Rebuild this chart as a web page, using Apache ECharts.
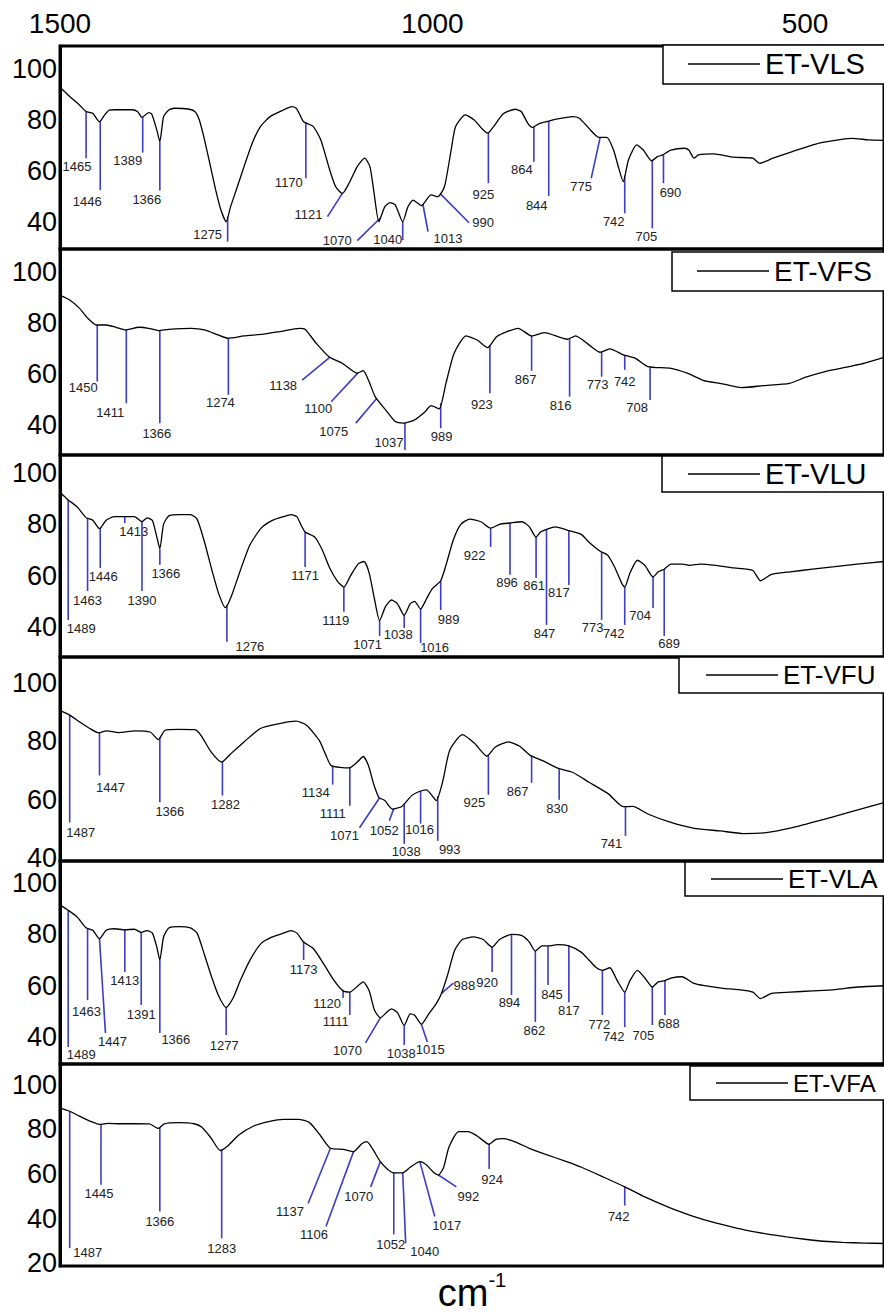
<!DOCTYPE html>
<html>
<head>
<meta charset="utf-8">
<script src="https://cdn.jsdelivr.net/npm/echarts@6/dist/echarts.min.js"></script>
<style>
  html, body { margin: 0; padding: 0; background: #fff; }
  #chart { width: 884px; height: 1313px; }
</style>
</head>
<body>
<div id="chart"></div>
<script>
// ---- FTIR spectra: wavenumber (cm-1) and transmittance (%) ----
const vlsWn = [1500,1487,1474,1465,1456,1447,1440,1434,1427,1403,1396,1390,1381,1377,1370,1366,1361,1354,1346,1328,1319,1313,1306,1297,1291,1284,1277,1271,1262,1253,1242,1231,1218,1200,1189,1183,1178,1173,1160,1150,1138,1130,1121,1112,1101,1091,1084,1079,1072,1064,1057,1050,1040,1033,1026,1015,1002,993,984,975,969,956,944,934,926,918,905,889,881,872,866,856,847,834,812,803,790,777,766,757,750,744,737,726,717,706,698,691,680,662,656,649,643,623,596,570,561,543,517,481,451,437,415,394];
const vlsT  = [92.8,89.2,85.9,83.3,82.6,79.3,82.0,83.9,84.0,84.0,83.3,81.0,82.9,82.4,76.0,71.5,81.3,83.9,84.6,84.3,83.3,80.0,72.2,60.4,52.5,44.7,40.1,46.0,53.8,61.7,70.9,77.4,81.3,83.9,85.2,84.6,82.0,79.3,77.4,72.2,60.4,53.8,51.2,55.2,61.7,65.0,61.7,52.5,40.1,46.0,47.6,46.7,40.1,46.0,48.6,46.4,50.6,49.9,53.8,68.2,77.4,82.0,80.0,76.7,74.8,77.4,82.4,84.2,83.3,78.7,77.1,78.7,79.3,80.3,81.3,80.7,76.7,73.2,73.2,68.2,61.0,55.8,64.3,70.2,68.2,64.0,65.6,66.3,68.2,68.9,68.2,65.0,66.3,66.7,65.4,65.0,63.0,65.0,67.6,70.9,72.4,72.8,72.2,72.0];

const vfsWn = [1500,1487,1474,1463,1451,1438,1425,1412,1394,1381,1368,1354,1324,1306,1288,1275,1253,1227,1205,1178,1171,1156,1138,1121,1101,1093,1086,1077,1063,1050,1039,1024,1010,1002,991,982,971,955,940,926,914,900,885,867,850,819,808,790,775,762,744,728,711,680,658,636,614,585,556,521,499,473,437,420,394];
const vfsT  = [90.8,89.0,85.8,81.9,79.2,79.2,78.3,77.3,78.3,77.9,77.0,77.5,77.9,77.3,75.3,74.0,74.9,75.6,76.6,77.9,77.5,72.0,66.5,64.2,60.3,61.3,57.6,51.1,45.9,41.3,40.7,42.0,45.2,47.6,46.3,56.3,68.1,74.9,73.3,70.3,74.6,76.6,77.9,74.9,76.2,73.6,74.9,71.4,68.5,69.8,67.5,66.2,62.9,62.2,60.3,57.4,56.3,54.6,55.4,56.3,58.7,60.9,63.1,64.2,66.5];

const vluWn = [1500,1489,1477,1465,1456,1447,1438,1427,1413,1400,1390,1383,1376,1370,1366,1361,1354,1340,1325,1316,1306,1296,1287,1278,1270,1258,1245,1230,1215,1200,1190,1182,1177,1171,1158,1148,1138,1128,1119,1110,1100,1092,1085,1078,1071,1063,1055,1047,1038,1030,1024,1016,1008,1000,989,982,972,962,950,935,922,910,896,880,870,861,855,847,835,817,800,790,775,765,755,746,742,735,725,715,704,697,689,680,665,655,640,620,595,570,560,545,520,490,460,430,394];
const vluT  = [92.5,89.5,86.8,82.6,81.6,78.3,81.6,83.0,83.0,83.0,81.0,82.5,81.5,75.0,70.5,80.0,83.3,83.8,83.8,82.0,73.0,62.0,53.0,47.5,52.0,62.0,72.0,78.5,81.5,83.0,83.8,83.0,80.0,77.0,75.0,70.0,63.0,58.0,55.5,60.0,64.5,65.5,61.0,51.0,42.5,48.0,50.5,49.0,44.5,49.0,50.0,47.0,51.0,55.0,58.0,64.0,74.0,80.0,82.0,81.0,78.5,80.0,80.5,81.0,79.0,75.0,77.0,78.0,79.0,77.5,76.0,73.0,69.5,68.0,63.0,57.0,55.5,61.0,66.0,64.0,59.5,61.5,62.5,64.5,64.5,64.0,64.5,64.0,63.0,62.0,58.0,60.5,61.5,62.5,63.5,64.5,65.5];

const vfuWn = [1500,1487,1474,1460,1448,1438,1421,1399,1379,1368,1359,1341,1319,1311,1297,1283,1271,1253,1231,1205,1183,1169,1152,1143,1136,1112,1101,1093,1086,1079,1072,1064,1054,1041,1028,1017,1008,995,986,977,960,944,927,916,898,883,869,852,832,812,790,764,744,731,711,680,649,614,583,552,517,481,446,410,394];
const vfuT  = [90.5,89.0,86.7,84.4,82.9,83.6,83.0,83.6,83.2,80.6,83.8,84.1,84.0,82.1,76.3,72.9,75.7,79.8,84.4,86.1,86.9,85.5,80.3,75.2,71.7,70.9,72.9,74.8,71.7,65.4,60.8,59.7,56.8,57.7,61.4,62.9,63.4,59.7,66.6,76.9,82.3,79.4,74.9,78.0,79.8,78.3,75.2,73.4,70.8,69.4,66.0,62.0,57.6,57.7,55.1,52.2,50.2,49.3,48.4,48.7,50.4,52.8,55.3,57.9,59.0];

const vlaWn = [1500,1489,1477,1465,1456,1447,1438,1427,1413,1400,1391,1383,1376,1370,1366,1361,1354,1340,1325,1316,1306,1296,1287,1277,1268,1258,1245,1230,1215,1200,1190,1182,1173,1160,1145,1132,1120,1111,1100,1093,1085,1078,1070,1062,1055,1047,1038,1030,1024,1015,1005,995,988,980,970,960,945,932,920,910,894,880,870,862,853,845,832,817,800,790,780,772,762,752,742,735,725,715,705,697,688,680,665,650,635,610,590,570,560,545,520,490,460,430,394];
const vlaT  = [91.5,89.4,86.8,82.6,81.6,78.3,81.6,82.2,81.8,82.0,80.8,81.5,80.5,75.0,70.0,79.0,82.5,83.0,82.5,80.5,72.0,63.0,56.0,51.5,55.0,62.0,70.0,76.5,79.0,80.5,81.5,80.5,77.0,74.5,68.0,62.0,58.0,57.5,60.0,61.5,58.0,50.5,47.5,49.5,51.0,49.5,44.5,49.0,48.5,45.0,49.0,53.0,57.0,64.0,74.0,78.0,79.0,78.0,75.0,78.0,80.0,79.5,77.0,73.5,75.5,75.5,76.0,75.5,73.0,70.0,67.0,66.0,67.0,62.0,57.5,62.0,66.0,63.0,59.5,61.5,62.0,63.0,63.5,61.0,60.0,59.0,58.5,57.5,55.0,57.0,57.5,58.0,58.5,59.5,60.0];

const vfaWn = [1500,1487,1474,1460,1447,1435,1420,1400,1380,1368,1360,1340,1320,1310,1297,1285,1275,1260,1240,1220,1200,1180,1165,1150,1137,1120,1106,1095,1088,1080,1070,1060,1052,1040,1030,1017,1008,998,992,985,978,965,952,940,924,915,905,890,870,850,820,800,770,742,720,700,675,650,625,600,575,550,525,500,475,450,420,394];
const vfaT  = [89.5,88.1,85.9,83.7,82.2,82.7,82.5,82.5,82.4,80.4,82.5,83.0,82.5,81.0,76.0,70.5,72.5,77.5,81.5,83.5,84.5,84.5,83.0,77.0,71.5,71.0,70.0,73.5,74.5,71.0,65.5,62.0,60.5,60.5,63.0,65.5,64.0,60.5,59.5,63.0,72.0,79.0,79.0,77.0,73.3,75.5,75.8,74.5,71.5,69.0,65.5,63.0,58.5,54.2,50.5,47.5,44.0,41.0,38.5,36.4,34.5,33.0,31.8,30.7,29.8,29.3,29.0,28.8];

// ---- labelled absorption bands (cm-1) ----
const vlsBands = [1465,1446,1389,1366,1275,1170,1121,1070,1040,1013,990,925,864,844,775,742,705,690];
const vfsBands = [1450,1411,1366,1274,1138,1100,1075,1037,989,923,867,816,773,742,708];
const vluBands = [1489,1463,1446,1413,1390,1366,1276,1171,1119,1071,1038,1016,989,922,896,861,847,817,773,742,704,689];
const vfuBands = [1487,1447,1366,1282,1134,1111,1071,1052,1038,1016,993,925,867,830,741];
const vlaBands = [1489,1463,1447,1413,1391,1366,1277,1173,1120,1111,1070,1038,1015,988,920,894,862,845,817,772,742,705,688];
const vfaBands = [1487,1445,1366,1283,1137,1106,1070,1052,1040,1017,992,924,742];

// ---- leader layout: line end [wavenumber, %T] and label offset [dx, dy] in px ----
const vlsLeaders = [[1465,65.0,-9,8],[1446,52.5,-13,11],[1389,67.2,-15,8],[1366,52.3,-13,9],[1275,32.3,-20,-7],[1170,57.1,-17,4],[1141,42.1,-19,-2],[1101,32.7,-20,0],[1040,32.9,-15,-1],[1006,36.2,20,7],[951,39.7,14,0],[925,55.2,-5,11],[864,63.6,-12,8],[844,50.2,-12,10],[787,57.1,-10,8],[742,43.4,-11,8],[705,37.5,-6,8],[690,55.2,7,9]];
const vfsLeaders = [[1450,57.0,-14,6],[1411,48.5,-16,9],[1366,40.7,-3,10],[1274,51.8,-8,8],[1175,57.6,-19,5],[1136,49.1,-13,7],[1103,40.7,-22,8],[1037,30.2,-16,-7],[989,38.7,1,8],[923,52.4,-8,11],[867,61.2,-6,9],[816,51.1,-9,9],[773,58.9,-4,8],[742,61.6,0,12],[708,49.8,-13,8]];
const vluLeaders = [[1489,42.7,13,8],[1463,54.0,0,9],[1446,63.0,3,9],[1413,80.5,9,8],[1390,54.0,0,9],[1366,64.2,6,9],[1276,34.2,23,5],[1171,63.4,0,9],[1119,45.9,-8,9],[1071,36.5,-12,9],[1038,39.6,-6,7],[1016,33.8,14,5],[989,46.6,8,9],[922,71.2,-16,9],[896,60.3,-3,8],[861,59.1,-2,8],[847,40.8,-2,9],[817,56.4,-10,8],[773,42.7,-9,7],[742,40.8,-11,9],[704,47.4,-13,8],[689,36.5,5,8]];
const vfuLeaders = [[1487,52.2,11,10],[1447,68.3,11,12],[1366,59.1,10,9],[1282,61.4,3,9],[1134,65.2,-17,8],[1111,57.9,-17,8],[1098,50.4,-15,8],[1058,52.8,-5,10],[1038,44.9,2,8],[1016,51.8,-1,6],[993,45.9,12,9],[925,61.7,-14,8],[867,65.8,-14,9],[830,60.0,-2,9],[741,47.6,-14,8]];
const vlaLeaders = [[1489,36.1,13,7],[1463,54.4,-1,11],[1439,41.6,7,9],[1413,65.3,0,8],[1391,52.5,0,10],[1366,41.6,16,7],[1277,40.8,-2,10],[1173,70.0,0,9],[1120,55.2,-16,5],[1111,48.6,-14,7],[1090,37.7,-18,8],[1038,36.9,-3,8],[1007,38.1,3,8],[972,61.0,11,2],[920,65.3,-5,10],[894,56.4,-2,8],[862,45.9,-1,9],[845,60.3,4,10],[817,53.6,0,8],[772,48.6,-3,10],[742,43.9,-11,9],[705,44.7,-9,11],[688,48.6,4,9]];
const vfaLeaders = [[1487,26.7,18,4],[1445,55.1,-2,9],[1366,43.1,0,10],[1283,31.1,0,10],[1167,46.7,-18,8],[1143,36.4,-12,8],[1083,54.2,-12,10],[1052,32.9,-3,10],[1036,28.9,19,8],[997,40.9,12,9],[968,54.2,12,10],[924,62.2,3,10],[742,45.8,-6,11]];

// ---- axis tick labels ----
const wnTicks = [1500, 1000, 500];
const tTicks = [40, 60, 80, 100];
const tTicksWide = [20, 40, 60, 80, 100];

// ---- panel layout ----
const FONT = 'Liberation Sans, Arial, Helvetica, sans-serif';
const panels = [
  { name: 'ET-VLS', wn: vlsWn, t: vlsT, bands: vlsBands, leaders: vlsLeaders, top: 46,   height: 203, yMin: 29.4, yMax: 109.0, ticks: tTicks,     lg: { left: 663, top: 45,   fs: 29, pad: [4, 40, 5, 25] } },
  { name: 'ET-VFS', wn: vfsWn, t: vfsT, bands: vfsBands, leaders: vfsLeaders, top: 249,  height: 206, yMin: 28.2, yMax: 109.0, ticks: tTicks,     lg: { left: 672, top: 252,  fs: 28, pad: [4, 40, 5, 25] } },
  { name: 'ET-VLU', wn: vluWn, t: vluT, bands: vluBands, leaders: vluLeaders, top: 455,  height: 202, yMin: 28.3, yMax: 107.0, ticks: tTicks,     lg: { left: 662, top: 456,  fs: 29, pad: [3, 40, 3, 26] } },
  { name: 'ET-VFU', wn: vfuWn, t: vfuT, bands: vfuBands, leaders: vfuLeaders, top: 657,  height: 204, yMin: 39.0, yMax: 108.9, ticks: tTicks,     lg: { left: 679, top: 657,  fs: 26, pad: [3, 40, 3, 27] } },
  { name: 'ET-VLA', wn: vlaWn, t: vlaT, bands: vlaBands, leaders: vlaLeaders, top: 861,  height: 203, yMin: 29.5, yMax: 108.6, ticks: tTicks,     lg: { left: 685, top: 862,  fs: 26, pad: [2, 40, 2, 26] } },
  { name: 'ET-VFA', wn: vfaWn, t: vfaT, bands: vfaBands, leaders: vfaLeaders, top: 1064, height: 204, yMin: 18.7, yMax: 109.3, ticks: tTicksWide, lg: { left: 690, top: 1066, fs: 24, pad: [2, 40, 2, 26] } }
];

// transmittance of a spectrum at a given wavenumber (spectra are stored high -> low)
function valueAt(wn, t, x) {
  for (let i = 0; i < wn.length - 1; i++) {
    if (x <= wn[i] && x >= wn[i + 1]) {
      const f = (wn[i] - x) / (wn[i] - wn[i + 1]);
      return t[i] + f * (t[i + 1] - t[i]);
    }
  }
  return t[t.length - 1];
}

const grids = [], xAxes = [], yAxes = [], series = [], legends = [];

panels.forEach((p, i) => {
  grids.push({
    left: 60, width: 836, top: p.top, height: p.height,
    show: true, borderColor: '#000', borderWidth: 3, backgroundColor: 'transparent'
  });

  const isTop = i === 0, isBottom = i === panels.length - 1;
  xAxes.push({
    type: 'value', gridIndex: i, min: 394, max: 1500, inverse: true,
    position: isTop ? 'top' : 'bottom',
    axisLine: { show: false }, axisTick: { show: false }, splitLine: { show: false },
    axisLabel: isTop
      ? { show: true, customValues: wnTicks, formatter: v => String(v),
          fontSize: 28, fontFamily: FONT, color: '#000', margin: 9 }
      : { show: false },
    name: isBottom ? '{a|cm}{b|-1}' : '',
    nameLocation: 'middle',
    nameGap: 4,
    nameTextStyle: {
      rich: {
        a: { fontSize: 38, fontFamily: FONT, color: '#000', lineHeight: 46 },
        b: { fontSize: 20, fontFamily: FONT, color: '#000', verticalAlign: 'top', lineHeight: 20 }
      }
    }
  });

  yAxes.push({
    type: 'value', gridIndex: i, min: p.yMin, max: p.yMax,
    axisLine: { show: true, lineStyle: { color: '#000', width: 3 } },
    axisTick: { show: false }, splitLine: { show: false },
    axisLabel: { customValues: p.ticks, fontSize: 27, fontFamily: FONT, color: '#000', margin: 3 }
  });

  series.push({
    type: 'line', name: p.name, xAxisIndex: i, yAxisIndex: i,
    data: p.wn.map((w, k) => [w, p.t[k]]),
    showSymbol: false, symbol: 'none', smooth: 0.2,
    lineStyle: { color: '#000', width: 1.3 }, itemStyle: { color: '#000' },
    silent: true
  });

  series.push({
    type: 'custom', name: p.name + ' bands', xAxisIndex: i, yAxisIndex: i, silent: true,
    data: p.bands.map((b, k) => {
      const L = p.leaders[k];
      return [b, valueAt(p.wn, p.t, b), L[0], L[1], L[2], L[3]];
    }),
    encode: { x: 0, y: 1 },
    renderItem: function (params, api) {
      const a = api.coord([api.value(0), api.value(1)]);
      const e = api.coord([api.value(2), api.value(3)]);
      return {
        type: 'group',
        children: [
          { type: 'line', shape: { x1: a[0], y1: a[1], x2: e[0], y2: e[1] },
            style: { stroke: '#3c3cc4', lineWidth: 1.6 } },
          { type: 'text', x: e[0] + api.value(4), y: e[1] + api.value(5),
            style: { text: String(api.value(0)), fontSize: 13, fontFamily: FONT, fill: '#222',
                     align: 'center', verticalAlign: 'middle' } }
        ]
      };
    }
  });

  legends.push({
    data: [{ name: p.name, icon: 'rect' }],
    left: p.lg.left, top: p.lg.top,
    itemWidth: 72, itemHeight: 1.5,
    padding: p.lg.pad,
    backgroundColor: '#fff', borderColor: '#000', borderWidth: 1.5,
    selectedMode: false,
    textStyle: { fontSize: p.lg.fs, fontFamily: FONT, color: '#000', lineHeight: 30 }
  });
});

const chart = echarts.init(document.getElementById('chart'), null, { renderer: 'svg' });
chart.setOption({
  animation: false,
  backgroundColor: '#fff',
  grid: grids,
  xAxis: xAxes,
  yAxis: yAxes,
  legend: legends,
  series: series
});
</script>
</body>
</html>
